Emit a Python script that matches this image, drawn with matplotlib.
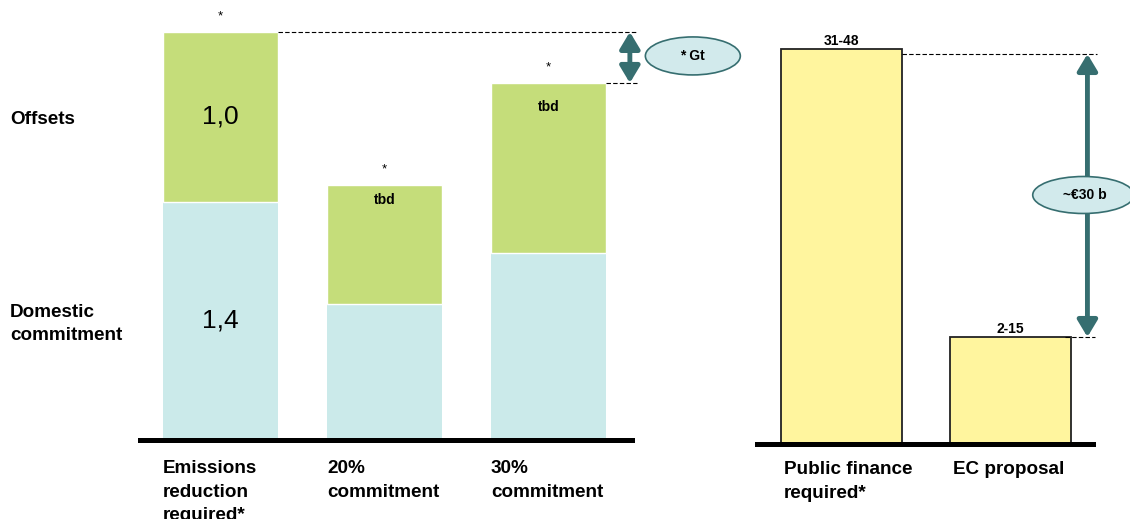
import matplotlib
matplotlib.use("Agg")
import matplotlib.pyplot as plt
from matplotlib.patches import Ellipse

plt.rcParams['font.family'] = ['Liberation Sans', 'DejaVu Sans']

# ---- data ----
left_categories = ["Emissions\nreduction\nrequired*", "20%\ncommitment", "30%\ncommitment"]
domestic = [1.4, 0.8, 1.1]
offsets = [1.0, 0.7, 1.0]
domestic_labels = ["1,4", "", ""]
offset_labels = ["1,0", "tbd", "tbd"]
gap_label = "* Gt"

right_categories = ["Public finance\nrequired*", "EC proposal"]
finance = [39.5, 10.7]
finance_labels = ["31-48", "2-15"]
finance_gap_label = "~€30 b"

# ---- style ----
GREEN = "#c5dd7a"
LBLUE = "#cbeaea"
YELLOW = "#fff59e"
TEAL = "#366e70"
ELL_FC = "#d2eaec"
CAT_FS = 13.6
LS = 1.5

W, H = 1130, 519
fig = plt.figure(figsize=(W / 100, H / 100), dpi=100)

def fig_rect(x0, x1, y_top, y_bottom):
    return [x0 / W, 1 - y_bottom / H, (x1 - x0) / W, (y_bottom - y_top) / H]

ARROW = dict(arrowstyle='<|-|>,head_length=0.5,head_width=0.3', lw=3.5,
             color=TEAL, shrinkA=0, shrinkB=0, mutation_scale=20)

# ---------------- left chart ----------------
axL = fig.add_axes(fig_rect(140, 632, 0, 440))
xs = list(range(len(left_categories)))
bw = 0.70
axL.bar(xs, domestic, width=bw, color=LBLUE, edgecolor='none', zorder=1)
axL.bar(xs, offsets, width=bw, bottom=domestic, color=GREEN, edgecolor='white', linewidth=1, zorder=1)
axL.set_xlim(-0.49, 2.51)
axL.set_ylim(0, 2.588)
for s in ['top', 'right', 'left']:
    axL.spines[s].set_visible(False)
axL.spines['bottom'].set_linewidth(3.6)
axL.spines['bottom'].set_zorder(3)
axL.set_xticks([])
axL.set_yticks([])

totals = [d + o for d, o in zip(domestic, offsets)]
for i in xs:
    axL.annotate("*", xy=(i, totals[i]), xytext=(0, 7), textcoords='offset points',
                 ha='center', va='bottom', fontsize=9.5)
    if offset_labels[i] == "tbd":
        off_pt = -10.5 if i == 1 else -17.5
        axL.annotate("tbd", xy=(i, totals[i]), xytext=(0, off_pt), textcoords='offset points',
                     ha='center', va='center', fontsize=10, fontweight='bold')
    elif offset_labels[i]:
        axL.text(i, domestic[i] + offsets[i] / 2, offset_labels[i], ha='center', va='center', fontsize=19)
    if domestic_labels[i]:
        axL.text(i, domestic[i] / 2, domestic_labels[i], ha='center', va='center', fontsize=19)
    axL.text(i - bw / 2, -0.118, left_categories[i], ha='left', va='top', fontsize=CAT_FS,
             fontweight='bold', linespacing=LS, clip_on=False)

xr = 2.54
axL.plot([0 + bw / 2, xr], [totals[0], totals[0]], ls=(0, (4, 2)), color='black', lw=0.8, clip_on=False)
axL.plot([2 + bw / 2, xr], [totals[2], totals[2]], ls=(0, (4, 2)), color='black', lw=0.8, clip_on=False)
axL.annotate('', xy=(2.497, totals[0]), xytext=(2.497, totals[2]), arrowprops=ARROW,
             annotation_clip=False)
ell = Ellipse((2.881, 2.259), 0.579, 0.2235, facecolor=ELL_FC, edgecolor=TEAL, lw=1.2, clip_on=False)
axL.add_patch(ell)
axL.text(2.881, 2.259, gap_label, ha='center', va='center', fontsize=10, fontweight='bold', clip_on=False)

fig.text(10 / W, 1 - 119 / H, "Offsets", ha='left', va='center', fontsize=CAT_FS, fontweight='bold')
fig.text(10 / W, 1 - 324 / H, "Domestic\ncommitment", ha='left', va='center', fontsize=CAT_FS,
         fontweight='bold', linespacing=LS)

# ---------------- right chart ----------------
axR = fig.add_axes(fig_rect(757, 1093, 0, 444))
xr_pos = list(range(len(right_categories)))
bwr = 0.718
axR.bar(xr_pos, finance, width=bwr, color=YELLOW, edgecolor='#222222', linewidth=1.3, zorder=1)
axR.set_xlim(-0.50, 1.49)
axR.set_ylim(0, 44.4)
for s in ['top', 'right', 'left']:
    axR.spines[s].set_visible(False)
axR.spines['bottom'].set_linewidth(3.6)
axR.spines['bottom'].set_zorder(3)
axR.set_xticks([])
axR.set_yticks([])

for i in xr_pos:
    axR.annotate(finance_labels[i], xy=(i, finance[i]), xytext=(0, 1), textcoords='offset points',
                 ha='center', va='bottom', fontsize=10, fontweight='bold')
    axR.text(i - bwr / 2 + 0.02, -1.7, right_categories[i], ha='left', va='top', fontsize=CAT_FS,
             fontweight='bold', linespacing=LS, clip_on=False)

y_hi = finance[0] - 0.5
y_lo = finance[1]
axR.plot([0 + bwr / 2, 1.516], [y_hi, y_hi], ls=(0, (4, 2)), color='black', lw=0.8, clip_on=False)
axR.plot([1.326, 1.504], [y_lo, y_lo], ls=(0, (4, 2)), color='black', lw=0.8, clip_on=False)
axR.annotate('', xy=(1.457, y_hi), xytext=(1.457, y_lo), arrowprops=ARROW,
             annotation_clip=False)
ell2 = Ellipse((1.433, 24.9), 0.60, 3.7, facecolor=ELL_FC, edgecolor=TEAL, lw=1.2, clip_on=False, zorder=4)
axR.add_patch(ell2)
axR.text(1.44, 24.9, finance_gap_label, ha='center', va='center', fontsize=10, fontweight='bold',
         clip_on=False, zorder=5)

fig.savefig("out.png", dpi=100)
